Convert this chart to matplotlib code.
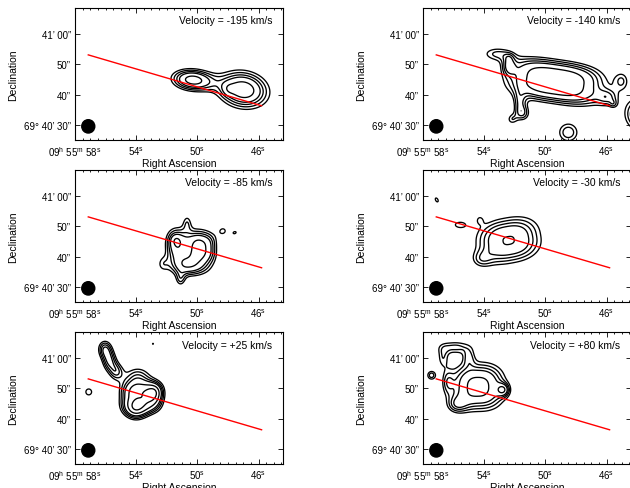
import numpy as np
import matplotlib.pyplot as plt
from matplotlib.patches import Ellipse
from matplotlib.ticker import MultipleLocator, FixedLocator

plt.rcParams['font.family'] = ['Liberation Sans', 'DejaVu Sans']
plt.rcParams['mathtext.fontset'] = 'custom'
plt.rcParams['mathtext.rm'] = 'Liberation Sans'

# velocity channels, in panel order (left-right, top-bottom)
velocities = ['-195', '-140', '-85', '-30', '+25', '+80']

# emission components:
# (RA s, Dec arcsec past 69d40m, size_x arcsec, size_y arcsec, peak, angle deg, profile power)
comp_m195 = [(50.3, 44.8, 5.0, 2.5, 9.0, -5, 2), (47.0, 41.6, 6.0, 4.2, 9.6, -10, 2),
             (48.0, 41.8, 1.5, 1.5, 1.5, 0, 2)]
comp_m140 = [(49.35, 44.3, 13.0, 5.5, 9.9, -8, 3),
             (52.4, 49.5, 1.6, 2.2, 3.8, 0, 2), (53.2, 53.5, 4.0, 1.8, 3.8, 0, 2),
             (52.35, 52.3, 1.2, 1.0, 1.0, 0, 2),
             (51.7, 37.5, 1.6, 2.5, 3.6, 0, 2), (51.5, 33.8, 2.0, 2.0, 4.6, 0, 2),
             (52.2, 31.8, 1.4, 1.4, 3.3, 0, 2),
             (43.5, 33.5, 4.5, 4.0, 9.0, 0, 2), (45.9, 39.0, 2.5, 2.0, 3.5, 0, 2),
             (45.55, 36.9, 1.0, 1.0, 2.0, 0, 2), (45.0, 44.5, 2.0, 2.5, 3.6, 0, 2),
             (48.5, 27.5, 3.0, 2.8, 4.8, 0, 2)]
comp_m85 = [(50.4, 42.0, 6.5, 6.0, 6.5, 0, 3), (51.5, 44.5, 2.2, 3.5, 3.0, 0, 2),
            (51.4, 45.5, 1.2, 1.2, 1.0, 0, 2), (49.6, 43.0, 3.5, 3.5, 2.8, 0, 3),
            (50.6, 36.5, 4.0, 2.2, 3.5, 0, 2), (50.67, 51.5, 1.2, 2.0, 3.0, 0, 2),
            (51.1, 32.3, 1.3, 1.8, 3.4, 0, 2), (52.3, 37.5, 1.5, 2.0, 2.5, 0, 2),
            (48.3, 48.5, 1.6, 1.5, 3.0, 0, 2), (47.55, 47.9, 0.9, 0.6, 3.3, 20, 2)]
comp_m30 = [(52.4, 45.3, 8.4, 5.7, 8.1, 10, 2.5), (55.6, 50.5, 2.5, 1.3, 3.4, 0, 2),
            (54.3, 52.3, 1.2, 1.3, 2.2, 0, 2), (54.2, 39.0, 2.5, 2.0, 2.5, 0, 2),
            (57.1, 58.7, 0.8, 1.4, 3.4, 30, 2)]
comp_p25 = [(53.7, 47.0, 5.5, 4.2, 9.5, 0, 3), (53.9, 54.0, 3.5, 2.5, 4.5, 0, 2),
            (52.7, 48.5, 2.0, 2.5, 4.0, 0, 2), (54.0, 42.0, 2.8, 2.2, 4.5, 0, 2),
            (56.05, 63.0, 1.8, 2.2, 5.5, 0, 2), (55.75, 59.0, 1.8, 2.5, 5.5, 0, 2),
            (55.3, 55.5, 1.8, 2.2, 4.5, 0, 2), (57.1, 48.8, 1.6, 1.6, 3.6, 0, 2),
            (52.9, 64.7, 0.35, 0.35, 3.3, 0, 2)]
comp_p80 = [(54.4, 50.5, 7.0, 6.0, 8.8, 0, 2.5), (52.75, 49.5, 1.5, 1.5, 5.0, 0, 2),
            (57.45, 54.3, 1.3, 1.3, 4.5, 0, 2), (56.4, 52.0, 1.5, 3.0, 3.0, 0, 2),
            (55.9, 63.6, 4.5, 1.7, 4.2, 0, 2), (56.7, 60.0, 1.5, 2.5, 3.4, 0, 2),
            (55.0, 60.3, 1.5, 2.0, 3.0, 0, 2), (55.8, 44.5, 2.5, 2.0, 3.5, 0, 2)]
components = [comp_m195, comp_m140, comp_m85, comp_m30, comp_p25, comp_p80]
levels = [3, 4, 5, 6, 8, 10]

# position-velocity cut and beam
cut_ra = [57.13, 45.8]
cut_dec = [53.1, 36.3]
beam = (57.13, 29.5, 0.85, 4.4)

xticks = [58, 54, 50, 46]
xticklabels = [r'09$^{\rm h}$ 55$^{\rm m}$ 58$^{\rm s}$', r'54$^{\rm s}$', r'50$^{\rm s}$', r'46$^{\rm s}$']
yticks = [30, 40, 50, 60]
yticklabels = ['69° 40’ 30”', '40”', '50”', '41’ 00”']

ARCSEC_PER_S = 5.21

ra = np.linspace(58.5, 44.0, 450)
dec = np.linspace(24, 70, 450)
RA, DEC = np.meshgrid(ra, dec)

fig = plt.figure(figsize=(6.3, 4.89), dpi=100)
col_x = [0.119, 0.6714]
row_y = [0.7117, 0.3804, 0.0491]
w, h = 0.3302, 0.270

for i, vel in enumerate(velocities):
    ax = fig.add_axes([col_x[i % 2], row_y[i // 2], w, h])
    field = np.zeros_like(RA)
    for (r0, d0, sx, sy, amp, ang, p) in components[i]:
        dx = (r0 - RA) * ARCSEC_PER_S
        dy = DEC - d0
        t = np.radians(ang)
        u = dx * np.cos(t) + dy * np.sin(t)
        v = -dx * np.sin(t) + dy * np.cos(t)
        field += amp * np.exp(-0.5 * (np.abs(u / sx) ** p + np.abs(v / sy) ** p))
    ax.contour(RA, DEC, field, levels=levels, colors='black', linewidths=0.95)
    ax.plot(cut_ra, cut_dec, color='red', lw=1.0)
    ax.add_patch(Ellipse((beam[0], beam[1]), beam[2], beam[3], color='black'))

    ax.set_xlim(58, 44.4)
    ax.set_ylim(25, 68.6)
    ax.xaxis.set_major_locator(FixedLocator(xticks))
    ax.set_xticklabels(xticklabels)
    ax.xaxis.set_minor_locator(MultipleLocator(0.5))
    ax.yaxis.set_major_locator(FixedLocator(yticks))
    ax.set_yticklabels(yticklabels)
    ax.tick_params(which='both', direction='in', top=True, right=True, labelsize=7, width=0.6)
    ax.tick_params(which='major', length=3.5, pad=3)
    ax.tick_params(which='minor', length=1.5)
    for s in ax.spines.values():
        s.set_linewidth(0.8)
    ax.set_xlabel('Right Ascension', fontsize=7.5, labelpad=0)
    ax.set_ylabel('Declination', fontsize=7.5, labelpad=4)
    ax.text(0.95, 0.905, 'Velocity = %s km/s' % vel, transform=ax.transAxes,
            ha='right', va='center', fontsize=7.5)

fig.savefig('out.png', dpi=100)
